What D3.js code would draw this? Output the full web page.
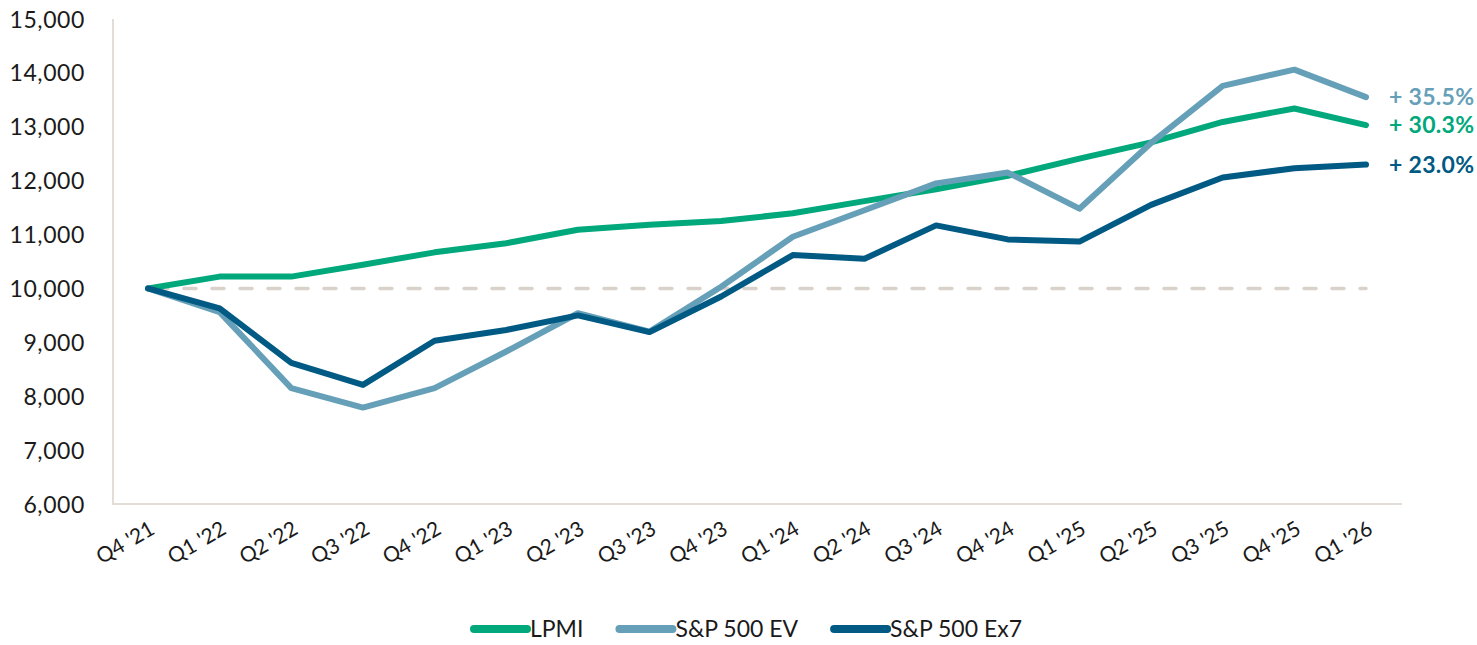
<!DOCTYPE html>
<html>
<head>
<meta charset="utf-8">
<script src="https://cdn.jsdelivr.net/npm/d3@7/dist/d3.min.js"></script>
<style>
  html, body { margin: 0; padding: 0; background: #ffffff; }
  svg { display: block; }
  text { font-family: Lato, "Noto Sans", sans-serif; }
</style>
</head>
<body>
<svg id="chart" width="1477" height="645"></svg>
<script>
const categories = ["Q4'21","Q1'22","Q2'22","Q3'22","Q4'22","Q1'23","Q2'23","Q3'23","Q4'23",
  "Q1'24","Q2'24","Q3'24","Q4'24","Q1'25","Q2'25","Q3'25","Q4'25","Q1'26"];

const lpmi  = [10000,10220,10220,10440,10670,10840,11090,11180,11250,11395,11620,11840,12090,12410,12710,13090,13340,13030];
const spEV  = [10000,9560,8150,7790,8150,8830,9540,9200,10030,10960,11450,11950,12150,11480,12700,13760,14060,13550];
const spEx7 = [10000,9630,8620,8210,9030,9230,9500,9190,9850,10620,10550,11170,10910,10870,11550,12060,12230,12300];

const seriesNames  = ["LPMI","S&P 500 EV","S&P 500 Ex7"];
const seriesLabels = ["+ 30.3%","+ 35.5%","+ 23.0%"];
const yTicks = [6000,7000,8000,9000,10000,11000,12000,13000,14000,15000];
const baseline = 10000;

const colors = ["#00a87c","#66a0b8","#005a83"];

const svg = d3.select("#chart");
const x = d3.scalePoint().domain(categories).range([148, 1366]);
const y = d3.scaleLinear().domain([6000, 15000]).range([504, 19]);

// axis lines
svg.append("line").attr("x1",113).attr("x2",113).attr("y1",19).attr("y2",505)
  .attr("stroke","#e2ddd6").attr("stroke-width",2);
svg.append("line").attr("x1",112).attr("x2",1402).attr("y1",504).attr("y2",504)
  .attr("stroke","#e2ddd6").attr("stroke-width",2);

// y tick labels
const yAxis = d3.axisLeft(y).tickValues(yTicks).tickSize(0).tickPadding(0)
  .tickFormat(d3.format(","));
const yg = svg.append("g").attr("transform","translate(85,0)").call(yAxis);
yg.select(".domain").remove();
yg.selectAll("text").attr("font-size",23).attr("fill","#1a1a1a")
  .attr("font-family","Lato, sans-serif").attr("dy","0.35em")
  .attr("letter-spacing","0.6px");

// x tick labels
const xAxis = d3.axisBottom(x).tickSize(0).tickPadding(0)
  .tickFormat(d => d.replace("'", " '"));
const xg = svg.append("g").call(xAxis);
xg.select(".domain").remove();
xg.selectAll(".tick").attr("transform", d => `translate(${x(d)+8},533)`);
xg.selectAll("text").attr("font-size",21).attr("fill","#1a1a1a")
  .attr("font-family","Lato, sans-serif")
  .attr("text-anchor","end").attr("dy",0).attr("y",0)
  .attr("transform","rotate(-30)");

// baseline dashed
svg.append("line").attr("x1",x(categories[0])).attr("x2",x(categories[categories.length-1]))
  .attr("y1",y(baseline)).attr("y2",y(baseline))
  .attr("stroke","#d9d2ca").attr("stroke-width",3.5)
  .attr("stroke-dasharray","12 16").attr("stroke-linecap","round")
  .attr("stroke-dashoffset",-8);

const data = [lpmi, spEV, spEx7];
const line = d3.line().x((d,i)=>x(categories[i])).y(d=>y(d));
data.forEach((s,k)=>{
  svg.append("path").datum(s).attr("d",line).attr("fill","none")
    .attr("stroke",colors[k]).attr("stroke-width",6)
    .attr("stroke-linejoin","round").attr("stroke-linecap","round");
});

// end labels
const lastCat = categories[categories.length-1];
data.forEach((s,k)=>{
  svg.append("text").attr("x", x(lastCat)+23).attr("y", y(s[s.length-1]))
    .attr("dy","0.36em").attr("font-size",23).attr("font-weight",700)
    .attr("letter-spacing","0.3px")
    .attr("fill",colors[k]).text(seriesLabels[k]);
});

// legend
const lg = svg.append("g");
let cx = 0;
seriesNames.forEach((n,k)=>{
  const g = lg.append("g").attr("transform",`translate(${cx},0)`);
  g.append("line").attr("x1",4).attr("x2",57).attr("y1",0).attr("y2",0)
    .attr("stroke",colors[k]).attr("stroke-width",8).attr("stroke-linecap","round");
  const t = g.append("text").attr("x",60).attr("y",0).attr("dy","0.36em")
    .attr("font-size",23).attr("fill","#1a1a1a").text(n);
  const w = t.node().getComputedTextLength();
  cx += 60 + w + 32;
});
const totalW = cx - 32;
lg.attr("transform",`translate(${746 - totalW/2},629)`);
</script>
</body>
</html>
